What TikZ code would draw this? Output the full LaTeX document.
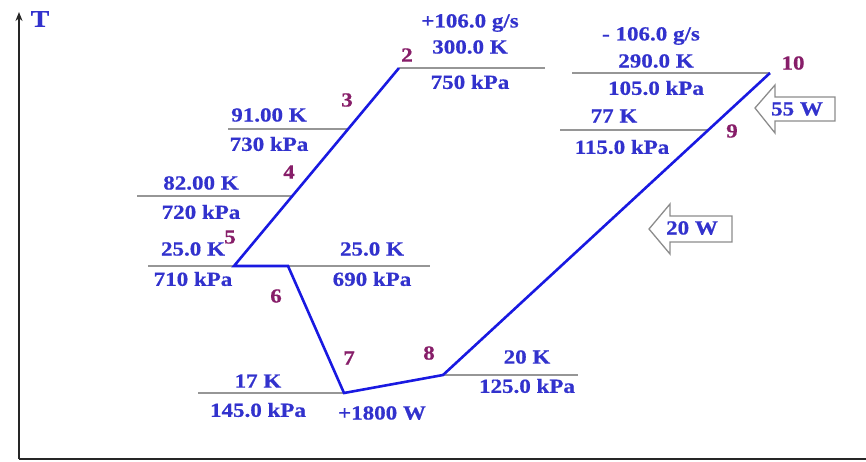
\documentclass[tikz,border=0pt]{standalone}
\usepackage{fontspec}
\setmainfont[FakeStretch=1.15, BoldFeatures={FakeStretch=1.15, FakeBold=0.6}]{Liberation Serif}
\usetikzlibrary{arrows.meta}
\definecolor{txtblue}{RGB}{50,50,205}
\definecolor{numpurp}{RGB}{135,30,105}
\definecolor{lineblue}{RGB}{25,25,225}
\definecolor{isogray}{RGB}{150,150,150}
\definecolor{boxgray}{RGB}{140,140,140}
\tikzset{
  val/.style={text=txtblue, font=\fontsize{20}{20}\selectfont\bfseries, inner sep=0pt},
  num/.style={text=numpurp, font=\fontsize{20}{20}\selectfont\bfseries, inner sep=0pt},
  iso/.style={draw=isogray, line width=1.6pt},
  cycleline/.style={draw=lineblue, line width=2.6pt, line join=miter},
  axis/.style={draw=black!85, line width=1.8pt},
  heatarrow/.style={draw=boxgray, line width=1.3pt, fill=white, line join=miter},
}
\begin{document}
\begin{tikzpicture}[x=1pt,y=-1pt]
\useasboundingbox (0,0) rectangle (866,461);
% axes
\coordinate (o) at (19,459);
\coordinate (ytop) at (19,12);
\coordinate (xend) at (866,459);
\draw[axis,-{Stealth[length=9pt,width=7pt]}] (o) -- (ytop);
\draw[axis] (o) -- (xend);
\node[val, font=\fontsize{24}{24}\selectfont\bfseries] (T) at (40,19) {T};
% cycle points
\coordinate (p2) at (399,68);
\coordinate (p5) at (234,266);
\coordinate (p6) at (288,266);
\coordinate (p7) at (344,393);
\coordinate (p8) at (443,375);
\coordinate (p10) at (770,73);
\coordinate (p3) at (348,129);
\coordinate (p4) at (292,196);
\coordinate (p9) at (708,130);
% isobars
\coordinate (i2r) at (545,68);
\coordinate (i3l) at (228,129);
\coordinate (i4l) at (137,196);
\coordinate (i5l) at (148,266);
\coordinate (i6r) at (430,266);
\coordinate (i7l) at (198,393);
\coordinate (i8r) at (578,375);
\coordinate (i10l) at (572,73);
\coordinate (i9l) at (560,130);
\draw[iso] (p2) -- (i2r);
\draw[iso] (i3l) -- (p3);
\draw[iso] (i4l) -- (p4);
\draw[iso] (i5l) -- (i6r);
\draw[iso] (i7l) -- (p7);
\draw[iso] (p8) -- (i8r);
\draw[iso] (i10l) -- (p10);
\draw[iso] (i9l) -- (p9);
% cycle
\draw[cycleline] (p2) -- (p5) -- (p6) -- (p7) -- (p8) -- (p10);
% state labels
\node[val] (f2) at (470,23) {+106.0 g/s};
\node[val] (t2) at (470,47) {300.0 K};
\node[val] (pr2) at (470,82) {750 kPa};
\node[num] (n2) at (407,55) {2};
\node[num] (n3) at (347,100) {3};
\node[val] (t3) at (269,115) {91.00 K};
\node[val] (pr3) at (269,144) {730 kPa};
\node[num] (n4) at (289,172) {4};
\node[val] (t4) at (201,183) {82.00 K};
\node[val] (pr4) at (201,212) {720 kPa};
\node[num] (n5) at (230,237) {5};
\node[val] (t5) at (193,249) {25.0 K};
\node[val] (pr5) at (193,279) {710 kPa};
\node[val] (t6) at (372,249) {25.0 K};
\node[val] (pr6) at (372,279) {690 kPa};
\node[num] (n6) at (276,296) {6};
\node[num] (n7) at (349,358) {7};
\node[num] (n8) at (429,353) {8};
\node[val] (t7) at (258,381) {17 K};
\node[val] (pr7) at (258,410) {145.0 kPa};
\node[val] (q7) at (382,413) {+1800 W};
\node[val] (t8) at (527,357) {20 K};
\node[val] (pr8) at (527,386) {125.0 kPa};
\node[val] (f10) at (651,36) {- 106.0 g/s};
\node[val] (t10) at (656,61) {290.0 K};
\node[val] (pr10) at (656,88) {105.0 kPa};
\node[num] (n10) at (793,63) {10};
\node[val] (t9) at (614,116) {77 K};
\node[val] (pr9) at (622,147) {115.0 kPa};
\node[num] (n9) at (732,131) {9};
% heat input arrows
\draw[heatarrow] (755,108) -- (775,85) -- (775,97) -- (835,97) -- (835,121) -- (775,121) -- (775,133) -- cycle;
\node[val] (w55) at (797,109) {55 W};
\draw[heatarrow] (649,229) -- (670,204) -- (670,216) -- (732,216) -- (732,242) -- (670,242) -- (670,254) -- cycle;
\node[val] (w20) at (692,228) {20 W};
\end{tikzpicture}
\end{document}
